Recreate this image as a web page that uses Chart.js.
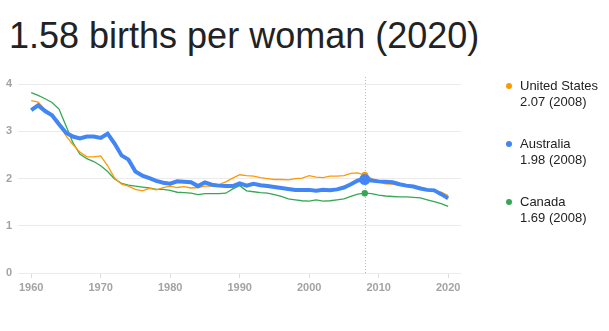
<!DOCTYPE html>
<html>
<head>
<meta charset="utf-8">
<script src="https://cdn.jsdelivr.net/npm/chart.js@4.4.1/dist/chart.umd.min.js"></script>
<style>
  html, body { margin: 0; padding: 0; background: #fff; }
  body { width: 609px; height: 331px; position: relative; overflow: hidden;
         font-family: "Liberation Sans", Arial, sans-serif; }
  #title { position: absolute; left: 9px; top: 18px; font-size: 36px; line-height: 36px;
           color: #222; white-space: nowrap; }
  #wrap { position: absolute; left: 0; top: 0; width: 609px; height: 331px; }
  .item { position: absolute; left: 520px; font-size: 13px; line-height: 16px; color: #222; white-space: nowrap; }
  .dot { position: absolute; width: 6px; height: 6px; border-radius: 50%; }
</style>
</head>
<body>
<div id="title"></div>
<div id="wrap"><canvas id="c" width="609" height="331"></canvas></div>
<div id="legend"></div>
<script>
// Total fertility rate, births per woman
const years = [];
for (let y = 1960; y <= 2020; y++) years.push(y);

const usRate = [3.65,3.62,3.46,3.32,3.19,2.91,2.72,2.56,2.46,2.46,
  2.48,2.27,2.01,1.88,1.84,1.77,1.74,1.79,1.76,1.81,
  1.84,1.81,1.83,1.80,1.81,1.84,1.84,1.87,1.93,2.01,
  2.08,2.06,2.05,2.02,2.00,1.98,1.98,1.97,2.00,2.01,
  2.06,2.03,2.02,2.05,2.05,2.06,2.11,2.12,2.07,2.00,
  1.93,1.89,1.88,1.86,1.86,1.84,1.82,1.77,1.73,1.71,
  1.64];

const auRate = [3.45,3.55,3.43,3.34,3.15,2.97,2.89,2.85,2.89,2.89,
  2.86,2.95,2.74,2.49,2.40,2.15,2.06,2.01,1.95,1.91,
  1.89,1.94,1.93,1.92,1.84,1.92,1.87,1.85,1.84,1.84,
  1.90,1.85,1.89,1.86,1.84,1.82,1.80,1.78,1.76,1.76,
  1.76,1.74,1.76,1.75,1.77,1.81,1.88,1.96,1.98,1.96,
  1.94,1.93,1.92,1.88,1.85,1.83,1.79,1.76,1.75,1.67,
  1.58];

const caRate = [3.82,3.76,3.69,3.61,3.47,3.12,2.76,2.52,2.42,2.36,
  2.27,2.15,1.99,1.90,1.86,1.84,1.82,1.80,1.77,1.77,
  1.75,1.71,1.70,1.69,1.66,1.68,1.68,1.68,1.69,1.78,
  1.85,1.74,1.72,1.70,1.69,1.66,1.62,1.57,1.55,1.53,
  1.52,1.55,1.52,1.53,1.55,1.57,1.62,1.67,1.69,1.68,
  1.65,1.63,1.62,1.61,1.61,1.60,1.59,1.55,1.51,1.47,
  1.41];

const xTicks = [1960, 1970, 1980, 1990, 2000, 2010, 2020];
const yTicks = [0, 1, 2, 3, 4];
const markYear = 2008;

const series = [
  { name: 'Australia',     values: auRate, color: '#4285f4', width: 4,   dot: 5.5 },
  { name: 'United States', values: usRate, color: '#ff9900', width: 1.3, dot: 3.5 },
  { name: 'Canada',        values: caRate, color: '#34a853', width: 1.3, dot: 3.2 }
];
const legendOrder = ['United States', 'Australia', 'Canada'];

const markIdx = years.indexOf(markYear);
const lastIdx = years.length - 1;

// Headline: latest value of the primary series
document.getElementById('title').textContent =
  auRate[lastIdx].toFixed(2) + ' births per woman (' + years[lastIdx] + ')';

// Legend with values at the highlighted year
const legend = document.getElementById('legend');
legendOrder.forEach((name, i) => {
  const s = series.find(d => d.name === name);
  const top = 78 + i * 58;
  const dot = document.createElement('div');
  dot.className = 'dot';
  dot.style.background = s.color;
  dot.style.left = '506px';
  dot.style.top = (top + 5) + 'px';
  legend.appendChild(dot);
  const item = document.createElement('div');
  item.className = 'item';
  item.style.top = top + 'px';
  item.innerHTML = s.name + '<br>' + s.values[markIdx].toFixed(2) + ' (' + markYear + ')';
  legend.appendChild(item);
});

// Dotted vertical marker at the highlighted year
const markerLine = {
  id: 'markerLine',
  beforeDatasetsDraw(chart) {
    const { ctx, chartArea } = chart;
    const x = Math.round(chart.scales.x.getPixelForValue(markYear)) + 0.5;
    ctx.save();
    ctx.strokeStyle = '#b8b8b8';
    ctx.lineWidth = 1;
    ctx.setLineDash([1, 2]);
    ctx.beginPath();
    ctx.moveTo(x, chartArea.top);
    ctx.lineTo(x, chartArea.bottom);
    ctx.stroke();
    ctx.restore();
  }
};

new Chart(document.getElementById('c'), {
  type: 'line',
  data: {
    datasets: series.map(s => ({
      label: s.name,
      data: years.map((y, i) => ({ x: y, y: s.values[i] })),
      borderColor: s.color,
      backgroundColor: s.color,
      borderWidth: s.width,
      tension: 0,
      fill: false,
      pointRadius: ctx => ctx.dataIndex === markIdx ? s.dot : 0,
      pointHoverRadius: ctx => ctx.dataIndex === markIdx ? s.dot : 0,
      pointBorderWidth: 0
    }))
  },
  options: {
    responsive: false,
    animation: false,
    events: [],
    layout: { padding: { left: 0, top: 77, right: 148, bottom: 0 } },
    plugins: { legend: { display: false }, tooltip: { enabled: false } },
    scales: {
      x: {
        type: 'linear',
        min: 1958.1,
        max: 2021.85,
        afterFit: s => { s.height = 58; },
        afterBuildTicks: s => { s.ticks = xTicks.map(v => ({ value: v })); },
        grid: { drawOnChartArea: false, drawTicks: true, tickLength: 5, color: '#dcdcdc' },
        border: { display: false },
        ticks: {
          padding: 3,
          maxRotation: 0,
          color: '#a3a3a3',
          font: { family: '"Liberation Sans", Arial, sans-serif', size: 11, weight: 'bold' },
          callback: v => String(v)
        }
      },
      y: {
        min: 0,
        max: 4.15,
        afterFit: s => { s.width = 18; },
        afterBuildTicks: s => { s.ticks = yTicks.map(v => ({ value: v })); },
        grid: { drawTicks: false, color: '#ebebeb' },
        border: { display: false },
        ticks: {
          padding: 6,
          color: '#a3a3a3',
          font: { family: '"Liberation Sans", Arial, sans-serif', size: 11, weight: 'bold' },
          callback: v => String(v)
        }
      }
    }
  },
  plugins: [markerLine]
});
</script>
</body>
</html>
